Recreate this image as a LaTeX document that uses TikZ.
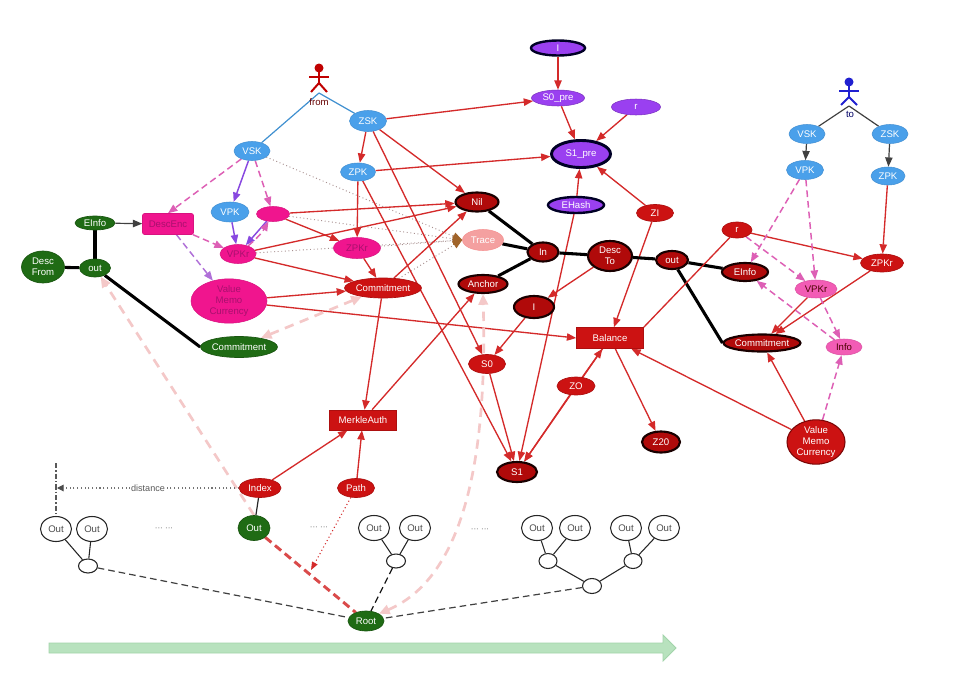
\documentclass[tikz,border=0pt]{standalone}
\usepackage{fontspec}
\setmainfont{Liberation Sans}
\usetikzlibrary{shapes.geometric,arrows.meta}
\pgfdeclarelayer{back}
\pgfdeclarelayer{bg}
\pgfsetlayers{back,bg,main}
\definecolor{nblue}{HTML}{4AA0EA}
\definecolor{npur}{HTML}{9A40F0}
\definecolor{nred}{HTML}{CC1212}
\definecolor{ndred}{HTML}{B00A0A}
\definecolor{nmag}{HTML}{F0158E}
\definecolor{nlmag}{HTML}{F25CB5}
\definecolor{tmag}{HTML}{A8106E}
\definecolor{ngreen}{HTML}{1F6B14}
\definecolor{ntrace}{HTML}{F4A0A0}
\definecolor{ecred}{HTML}{D42A2A}
\definecolor{ecmag}{HTML}{DD5FB5}
\definecolor{ecpur}{HTML}{8848E0}
\definecolor{eclav}{HTML}{B070D8}
\definecolor{ecpink}{HTML}{F4C8C8}
\definecolor{ecdot}{HTML}{A89090}
\definecolor{ecbrown}{HTML}{A0642A}
\definecolor{ecblue}{HTML}{4090D0}
\definecolor{garrow}{HTML}{B8E2BE}
\definecolor{garrowd}{HTML}{A2D4AA}
\definecolor{actred}{HTML}{C00000}
\definecolor{actblue}{HTML}{2020D0}
\begin{document}
\begin{tikzpicture}[x=0.75pt,y=-0.75pt,font=\fontsize{7.2}{8.4}\selectfont,
 sz/.style 2 args={minimum width=#1*0.75pt,minimum height=#2*0.75pt},
 basen/.style={ellipse,inner sep=0pt,text=white},
 bluen/.style={basen,fill=nblue,draw=nblue!90!black,line width=0.4pt},
 purn/.style={basen,fill=npur,draw=npur!80!black,line width=0.4pt},
 thickb/.style={draw=black!85!blue,line width=1.8pt},
 redn/.style={basen,fill=nred,draw=nred!85!black,line width=0.5pt},
 dredn/.style={basen,fill=ndred,draw=black!90!red,line width=1.6pt},
 magn/.style={basen,fill=nmag,draw=nmag!90!black,line width=0.4pt,text=tmag},
 lmagn/.style={basen,fill=nlmag,draw=nlmag!90!black,line width=0.4pt,text=black!70!red},
 magrect/.style={rectangle,rounded corners=1.5pt,inner sep=0pt,fill=nmag,draw=nmag!90!black,text=tmag},
 redrect/.style={rectangle,inner sep=0pt,fill=nred,draw=nred!85!black,text=white},
 greenn/.style={basen,fill=ngreen,draw=ngreen!80!black,line width=0.5pt},
 tracen/.style={basen,fill=ntrace,draw=ntrace!90!red,line width=0.4pt,text=white},
 outw/.style={ellipse,inner sep=0pt,fill=white,draw=black!85,line width=0.8pt,text=black!70,sz={31}{25}},
 smallc/.style={ellipse,inner sep=0pt,fill=white,draw=black!85,line width=0.8pt,sz={19}{14}},
 rarr/.style={draw=ecred,line width=1pt,-{Triangle[length=7pt,width=5.5pt]}},
 rline/.style={draw=ecred,line width=1pt},
 marr/.style={draw=ecmag,line width=1.1pt,dash pattern=on 5pt off 3pt,-{Triangle[length=7pt,width=5.5pt]}},
 lavarr/.style={draw=eclav,line width=1.1pt,dash pattern=on 5pt off 3pt,-{Triangle[length=7pt,width=5.5pt]}},
 parr/.style={draw=ecpur,line width=1.1pt,-{Triangle[length=7pt,width=5.5pt]}},
 pdash/.style={draw=ecpink,line width=2pt,dash pattern=on 7pt off 5pt},
 tline/.style={draw=black,line width=2.3pt},
 dotarr/.style={draw=ecdot,dotted,line width=0.7pt,-{Triangle[length=7pt,width=6pt,color=ecbrown]}},
 darr/.style={draw=black!75,line width=0.9pt,-{Triangle[length=7pt,width=5.5pt]}},
 treeline/.style={draw=black!85,line width=0.8pt},
 treedash/.style={draw=black!75,line width=0.9pt,dash pattern=on 5pt off 3pt}]
\useasboundingbox (0,0) rectangle (960,696);
\begin{pgfonlayer}{back}
\fill[white] (0,0) rectangle (960,696);
\end{pgfonlayer}

% ---------- actors ----------
\begin{scope}[actred,line width=1.5pt]
 \fill (319,68) circle (4.5);
 \draw (319,72) -- (319,83);
 \draw (309,77) -- (329,77);
 \draw (319,83) -- (311,92);
 \draw (319,83) -- (327,92);
\end{scope}
\coordinate (fromc) at (319,93);
\node[text=black!60!red] (fromlbl) at (319,102) {from};
\begin{scope}[actblue,line width=1.5pt]
 \fill (849,82) circle (4.5);
 \draw (849,86) -- (849,97);
 \draw (839,91) -- (859,91);
 \draw (849,97) -- (841,105);
 \draw (849,97) -- (857,105);
\end{scope}
\coordinate (toc) at (849,106);
\node[text=black!60!blue] (tolbl) at (850,114) {to};

% ---------- left group ----------
\node[bluen,sz={36}{19}] (VSK) at (252,151) {VSK};
\node[bluen,sz={37}{21}] (ZSK) at (368,121) {ZSK};
\node[bluen,sz={35}{18}] (ZPK) at (358,172) {ZPK};
\node[bluen,sz={38}{20}] (VPK) at (230,212) {VPK};
\node[magn,sz={33}{15}] (sm) at (273,214) {};
\node[magrect,sz={51}{21}] (DescEnc) at (168,224) {DescEnc};
\node[magn,sz={36}{19}] (VPKr) at (238,254) {VPKr};
\node[magn,sz={47}{21}] (ZPKrM) at (357,248) {ZPKr};
\node[magn,sz={76}{41},align=center] (VMC) at (229,301) {Value\\Memo\\Currency};
\node[redn,sz={73}{20}] (CommitR) at (383,288) {Commitment};
\node[greenn,sz={40}{14}] (EInfoG) at (95,223) {EInfo};
\node[greenn,sz={31}{18}] (outG) at (95,268) {out};
\node[greenn,sz={43}{32},align=center] (DescFrom) at (43,267) {Desc\\From};
\node[greenn,sz={72}{21}] (CommitG) at (239,347) {Commitment};

% ---------- middle ----------
\node[purn,thickb,sz={54}{15}] (Ipur) at (558,48) {I};
\node[purn,sz={53}{16}] (S0pre) at (558,98) {S0\_pre};
\node[purn,sz={49}{16}] (rpur) at (636,107) {r};
\node[purn,thickb,line width=2.2pt,sz={59}{27}] (S1pre) at (581,154) {S1\_pre};
\node[purn,thickb,sz={56}{16}] (EHash) at (576,205) {EHash};
\node[redn,sz={37}{17}] (ZI) at (655,213) {ZI};
\node[dredn,sz={43}{19}] (Nil) at (477,202) {Nil};
\node[tracen,sz={41}{21}] (Trace) at (483,240) {Trace};
\node[dredn,sz={31}{19}] (In) at (543,252) {In};
\node[dredn,sz={44}{30},align=center] (DescTo) at (610,256) {Desc\\To};
\node[dredn,sz={32}{18}] (outR) at (672,260) {out};
\node[dredn,sz={49}{18}] (Anchor) at (483,284) {Anchor};
\node[dredn,sz={40}{22}] (Ired) at (534,307) {I};
\node[redrect,sz={67}{21}] (Balance) at (610,338) {Balance};
\node[redn,sz={37}{19}] (S0) at (487,364) {S0};
\node[redn,sz={38}{18}] (ZO) at (576,386) {ZO};
\node[dredn,sz={38}{21}] (Z20) at (661,442) {Z20};
\node[dredn,sz={40}{20}] (S1) at (517,472) {S1};
\node[redrect,sz={67}{20}] (Merkle) at (363,420) {MerkleAuth};
\node[redn,sz={42}{19}] (Index) at (260,488) {Index};
\node[redn,sz={37}{19}] (Path) at (356,488) {Path};
\node[greenn,sz={32}{25}] (OutG) at (254,528) {Out};
\node[greenn,sz={36}{20}] (Root) at (366,621) {Root};

% ---------- right group ----------
\node[bluen,sz={36}{19}] (VSKb) at (807,134) {VSK};
\node[bluen,sz={36}{19}] (ZSKb) at (890,134) {ZSK};
\node[bluen,sz={37}{19}] (VPKb) at (805,170) {VPK};
\node[bluen,sz={34}{18}] (ZPKb) at (888,176) {ZPK};
\node[redn,sz={30}{16}] (rR) at (737,230) {r};
\node[dredn,sz={46}{18}] (EInfoR) at (745,272) {EInfo};
\node[lmagn,sz={42}{18}] (VPKrR) at (816,289) {VPKr};
\node[redn,sz={43}{18}] (ZPKrR) at (882,263) {ZPKr};
\node[dredn,sz={73}{17}] (CommitRR) at (762,343) {Commitment};
\node[lmagn,sz={36}{16}] (Info) at (844,347) {Info};
\node[redn,draw=ndred!70!black,line width=0.8pt,sz={58}{43},align=center] (VMCR) at (816,442) {Value\\Memo\\Currency};

% ---------- bottom tree ----------
\node[outw] (O1) at (56,529) {Out};
\node[outw] (O2) at (92,529) {Out};
\node[outw] (O3) at (374,528) {Out};
\node[outw] (O4) at (415,528) {Out};
\node[outw] (O5) at (537,528) {Out};
\node[outw] (O6) at (575,528) {Out};
\node[outw] (O7) at (626,528) {Out};
\node[outw] (O8) at (664,528) {Out};
\node[smallc] (c1) at (88,566) {};
\node[smallc] (c2) at (396,561) {};
\node[smallc,sz={18}{15}] (c3) at (548,561) {};
\node[smallc,sz={18}{15}] (c4) at (633,561) {};
\node[smallc,sz={19}{15}] (c5) at (592,586) {};
\node[text=black!60,font=\fontsize{6}{7}\selectfont] (dots1) at (164,529) {··· ···};
\node[text=black!60,font=\fontsize{6}{7}\selectfont] (dots2) at (319,528) {··· ···};
\node[text=black!60,font=\fontsize{6}{7}\selectfont] (dots3) at (480,530) {··· ···};
\coordinate (disttop) at (56,463);
\coordinate (distend) at (57,488);
\coordinate (pend) at (311,570);
\node[fill=white,inner sep=0.5pt,text=black!65,font=\fontsize{6.8}{8}\selectfont] (distlbl) at (148,488) {distance};

% green arrow
\filldraw[fill=garrow,draw=garrowd,line width=0.6pt] (49,643) -- (663,643) -- (663,635) -- (676,648) -- (663,661) -- (663,653) -- (49,653) -- cycle;

% ---------- edges ----------
\begin{pgfonlayer}{bg}
\draw[draw=ecblue,line width=0.9pt] (fromc) -- (VSK);
\draw[draw=ecblue,line width=0.9pt] (fromc) -- (ZSK);
\draw[draw=black!75,line width=0.9pt] (toc) -- (VSKb);
\draw[draw=black!75,line width=0.9pt] (toc) -- (ZSKb);
\draw[darr] (VSKb) -- (VPKb);
\draw[darr] (ZSKb) -- (ZPKb);

\draw[parr] (VSK) -- (VPK);
\draw[marr] (VSK) -- (sm);
\draw[marr] (VSK) -- (DescEnc.north);
\draw[dotarr] (VSK) -- (Trace.west);
\draw[darr] (EInfoG) -- (DescEnc);
\draw[tline] (EInfoG) -- (outG);
\draw[tline] (DescFrom) -- (outG);
\draw[tline] (outG) -- (CommitG.west);
\draw[marr] (DescEnc) -- (VPKr);
\draw[lavarr] (DescEnc) -- (VMC);
\draw[parr] (VPK) -- (VPKr);
\draw[parr] (sm) -- (VPKr);
\draw[marr] (VPKr) to[bend right=10] (sm);
\draw[rarr] (sm) -- (Nil);
\draw[rarr] (sm) -- (ZPKrM);
\draw[dotarr] (sm) -- (Trace.west);
\draw[rarr] (VPKr) -- (Nil);
\draw[rarr] (VPKr) -- (CommitR);
\draw[dotarr] (VPKr) -- (Trace.west);
\draw[rarr] (ZPK) -- (ZPKrM);
\draw[rarr] (ZPKrM) -- (CommitR);
\draw[dotarr] (ZPKrM) -- (Trace.west);
\draw[rarr] (VMC) -- (CommitR);
\draw[rarr] (VMC) -- (Balance.west);
\draw[rarr] (CommitR) -- (Merkle);
\draw[rarr] (CommitR) -- (Nil);
\draw[dotarr] (CommitR) -- (Trace.west);
\draw[pdash,{Triangle[length=8pt,width=7pt,color=ecpink]}-{Triangle[length=8pt,width=7pt,color=ecpink]}] (CommitG) -- (CommitR);

\draw[rarr] (ZSK) -- (S0pre);
\draw[rarr] (ZSK) -- (ZPK);
\draw[rarr] (ZSK) -- (Nil);
\draw[rarr] (ZSK) -- (S0);
\draw[rarr] (ZPK) -- (S1pre);
\draw[rarr] (ZPK) -- (S1);
\draw[rarr] (Ipur) -- (S0pre);
\draw[rarr] (S0pre) -- (S1pre);
\draw[rarr] (rpur) -- (S1pre);
\draw[rarr] (EHash) -- (S1pre);
\draw[rarr] (EHash) -- (S1);
\draw[rarr] (ZI) -- (S1pre);
\draw[rarr] (ZI) -- (Balance);
\draw[tline] (Nil) -- (In);
\draw[tline] (Trace) -- (In);
\draw[tline] (Anchor) -- (In);
\draw[tline] (In) -- (DescTo);
\draw[tline] (DescTo) -- (outR);
\draw[tline] (outR) -- (EInfoR);
\draw[tline] (outR) -- (CommitRR.west);
\draw[rarr] (DescTo) -- (Ired);
\draw[rarr] (Ired) -- (S0);
\draw[rarr] (S0) -- (S1);
\draw[rarr] (ZO) -- (Balance);
\draw[rarr] (ZO) -- (S1);
\draw[rarr] (Balance) -- (S1);
\draw[rarr] (Balance) -- (Z20);
\draw[rarr] (Merkle) -- (Anchor);
\draw[rarr] (Index) -- (Merkle);
\draw[rarr] (Path) -- (Merkle);
\draw[draw=black!85,line width=0.9pt] (Index) -- (OutG);
\draw[draw=ecred,dotted,line width=0.8pt,-{Triangle[length=6pt,width=4.5pt]}] (Path) -- (pend);
\draw[draw=ecred!85,line width=2.2pt,dash pattern=on 6pt off 3.5pt] (OutG) -- (Root);
\draw[pdash,-{Triangle[length=8pt,width=7pt,color=ecpink]}] (OutG.north) -- (outG);
\draw[pdash,{Triangle[length=8pt,width=7pt,color=ecpink]}-{Triangle[length=8pt,width=7pt,color=ecpink]}] (Root.north east) .. controls (470,575) and (487,440) .. (Anchor.south);
\draw[draw=black!55,dotted,line width=0.8pt,-{Triangle[length=5pt,width=5pt,color=black!70]}] (Index) -- (distend);
\draw[draw=black!65,line width=0.8pt,dash pattern=on 4pt off 1.5pt on 1pt off 1.5pt] (disttop) -- (O1);

\draw[rarr] (rR) -- (ZPKrR);
\draw[rline] (rR) -- (Balance.north east);
\draw[marr] (rR) -- (VPKrR);
\draw[marr] (VPKb) -- (EInfoR);
\draw[marr] (VPKb) -- (VPKrR);
\draw[rarr] (ZPKb) -- (ZPKrR);
\draw[rarr] (VPKrR) -- (CommitRR);
\draw[rarr] (ZPKrR) -- (CommitRR);
\draw[marr] (VPKrR) -- (Info);
\draw[marr] (Info) -- (EInfoR);
\draw[rarr] (VMCR) -- (CommitRR);
\draw[marr] (VMCR) -- (Info);
\draw[rarr] (VMCR) -- (Balance);

\draw[treeline] (O1) -- (c1);
\draw[treeline] (O2) -- (c1);
\draw[treeline] (O3) -- (c2);
\draw[treeline] (O4) -- (c2);
\draw[treeline] (O5) -- (c3);
\draw[treeline] (O6) -- (c3);
\draw[treeline] (O7) -- (c4);
\draw[treeline] (O8) -- (c4);
\draw[treeline] (c3) -- (c5);
\draw[treeline] (c4) -- (c5);
\draw[treedash] (c1) -- (Root);
\draw[treedash,draw=black!90] (c2) -- (Root);
\draw[treedash] (c5) -- (Root);
\end{pgfonlayer}
\end{tikzpicture}
\end{document}
